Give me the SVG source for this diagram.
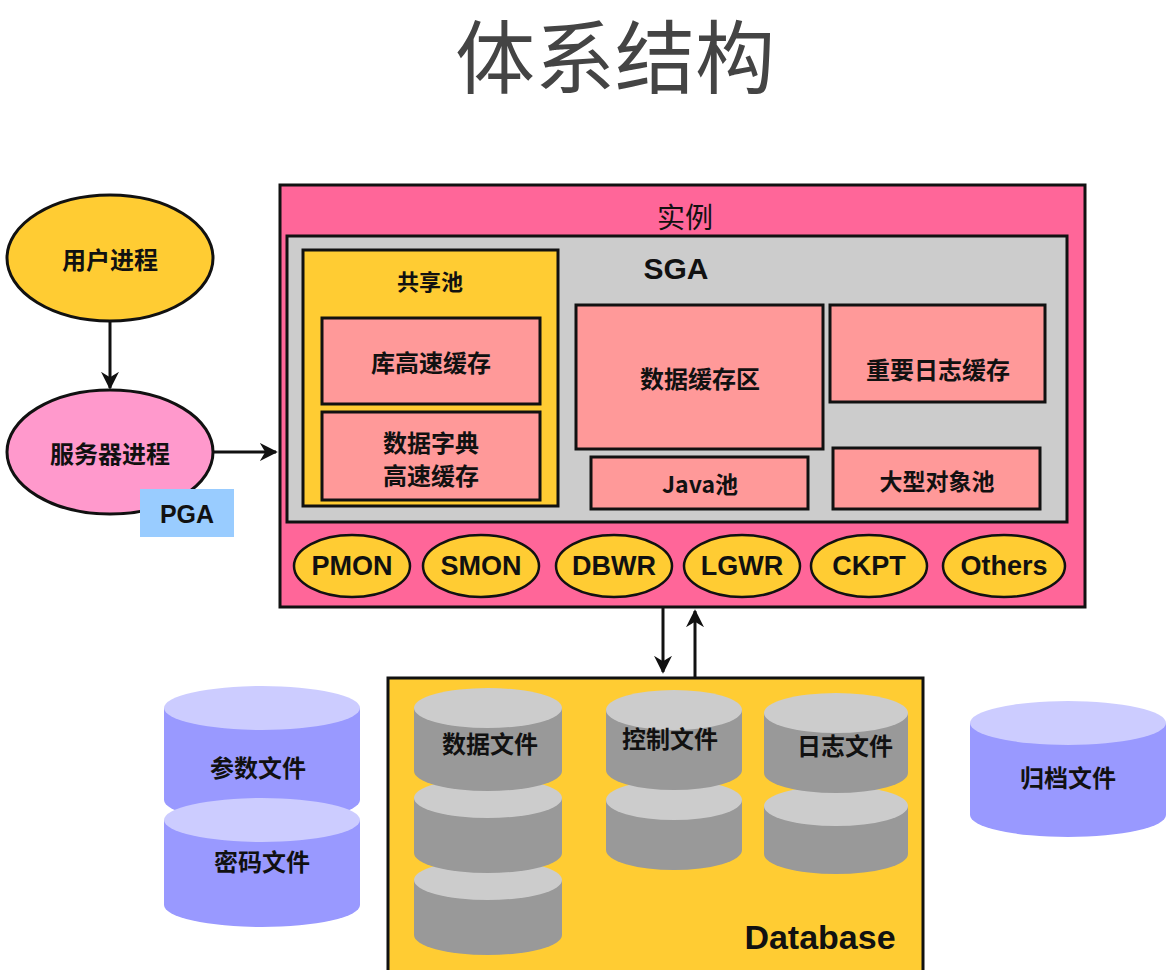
<svg xmlns="http://www.w3.org/2000/svg" width="1170" height="970" viewBox="0 0 1170 970">
<defs>
<style>
.t{font-family:"Noto Sans CJK SC","Liberation Sans",sans-serif;font-weight:bold;fill:#111;text-anchor:middle;dominant-baseline:central}
.b{stroke:#111;stroke-width:3}
.pk{fill:#ff9999}
.pr{fill:#ffcc33;stroke:#111;stroke-width:2.5}
.pt{font-family:"Liberation Sans",sans-serif;font-weight:bold;font-size:27px;fill:#111;text-anchor:middle;dominant-baseline:central}
.ln{stroke:#111;stroke-width:3;fill:none}
</style>
<marker id="ah" viewBox="0 0 10 10" refX="9" refY="5" markerWidth="6" markerHeight="6" orient="auto"><path d="M0,0 L10,5 L0,10 L3,5 z" fill="#111"/></marker>
</defs>
<rect width="1170" height="970" fill="#fff"/>
<text x="615" y="52" font-family="Noto Sans CJK SC,sans-serif" font-size="80" fill="#444" text-anchor="middle" dominant-baseline="central">体系结构</text>

<g id="instance">
<rect x="280" y="185" width="805" height="422" fill="#ff6699" class="b"/>
<text x="685" y="216" class="t" font-size="28" style="font-weight:normal">实例</text>
</g>
<g id="sga">
<rect x="287" y="236" width="780" height="286" fill="#cccccc" class="b"/>
<text x="676" y="268" class="pt" style="font-size:30px">SGA</text>
</g>
<g id="shared-pool">
<rect x="303" y="250" width="255" height="256" fill="#ffcc33" class="b"/>
<text x="430" y="280" class="t" font-size="22">共享池</text>
</g>
<g id="lib-cache"><rect x="322" y="318" width="218" height="86" class="pk b"/><text x="431" y="361" class="t" font-size="24">库高速缓存</text></g>
<g id="dict-cache"><rect x="322" y="412" width="218" height="88" class="pk b"/><text x="431" y="441" class="t" font-size="24">数据字典</text><text x="431" y="474" class="t" font-size="24">高速缓存</text></g>
<g id="db-buffer"><rect x="576" y="305" width="247" height="144" class="pk b"/><text x="700" y="377" class="t" font-size="24">数据缓存区</text></g>
<g id="redo-buffer"><rect x="830" y="305" width="215" height="97" class="pk b"/><text x="938" y="368" class="t" font-size="24">重要日志缓存</text></g>
<g id="java-pool"><rect x="591" y="457" width="217" height="52" class="pk b"/><text x="700" y="483" class="t" font-size="23">Java池</text></g>
<g id="large-pool"><rect x="833" y="448" width="207" height="61" class="pk b"/><text x="937" y="480" class="t" font-size="23">大型对象池</text></g>

<g id="pmon"><ellipse cx="352" cy="566" rx="58" ry="31" class="pr"/><text x="352" y="566" class="pt">PMON</text></g>
<g id="smon"><ellipse cx="481" cy="566" rx="58" ry="31" class="pr"/><text x="481" y="566" class="pt">SMON</text></g>
<g id="dbwr"><ellipse cx="614" cy="566" rx="58" ry="31" class="pr"/><text x="614" y="566" class="pt">DBWR</text></g>
<g id="lgwr"><ellipse cx="742" cy="566" rx="58" ry="31" class="pr"/><text x="742" y="566" class="pt">LGWR</text></g>
<g id="ckpt"><ellipse cx="869" cy="566" rx="58" ry="31" class="pr"/><text x="869" y="566" class="pt">CKPT</text></g>
<g id="others"><ellipse cx="1004" cy="566" rx="61" ry="31" class="pr"/><text x="1004" y="566" class="pt">Others</text></g>

<g id="user-process"><ellipse cx="110" cy="258" rx="103" ry="63" fill="#ffcc33" class="b"/><text x="110" y="258" class="t" font-size="24">用户进程</text></g>
<g id="server-process"><ellipse cx="110" cy="452" rx="103" ry="62" fill="#ff99cc" class="b"/><text x="110" y="452" class="t" font-size="24">服务器进程</text></g>
<g id="pga"><rect x="140" y="489" width="94" height="48" fill="#99ccff"/><text x="187" y="514" class="pt" style="font-size:25px">PGA</text></g>

<g id="connectors">
<line x1="110" y1="322" x2="110" y2="388" class="ln" marker-end="url(#ah)"/>
<line x1="214" y1="452" x2="276" y2="452" class="ln" marker-end="url(#ah)"/>
<line x1="663" y1="607" x2="663" y2="672" class="ln" marker-end="url(#ah)"/>
<line x1="695" y1="678" x2="695" y2="611" class="ln" marker-end="url(#ah)"/>
</g>

<g id="database">
<rect x="388" y="678" width="535" height="300" fill="#ffcc33" class="b"/>
<text x="820" y="937" class="pt" style="font-size:34px">Database</text>
</g>
<g id="data-files" fill="#999">
<path d="M414,880 v55 a74,20 0 0 0 148,0 v-55 z"/><ellipse cx="488" cy="880" rx="74" ry="20" fill="#ccc"/>
<path d="M414,798 v55 a74,20 0 0 0 148,0 v-55 z"/><ellipse cx="488" cy="798" rx="74" ry="20" fill="#ccc"/>
<path d="M414,708 v63 a74,20 0 0 0 148,0 v-63 z"/><ellipse cx="488" cy="708" rx="74" ry="20" fill="#ccc"/>
<text x="490" y="742" class="t" font-size="24">数据文件</text>
</g>
<g id="control-files" fill="#999">
<path d="M606,800 v50 a68,20 0 0 0 136,0 v-50 z"/><ellipse cx="674" cy="800" rx="68" ry="20" fill="#ccc"/>
<path d="M606,710 v60 a68,20 0 0 0 136,0 v-60 z"/><ellipse cx="674" cy="710" rx="68" ry="20" fill="#ccc"/>
<text x="670" y="737" class="t" font-size="24">控制文件</text>
</g>
<g id="log-files" fill="#999">
<path d="M764,806 v48 a72,20 0 0 0 144,0 v-48 z"/><ellipse cx="836" cy="806" rx="72" ry="20" fill="#ccc"/>
<path d="M764,713 v60 a72,20 0 0 0 144,0 v-60 z"/><ellipse cx="836" cy="713" rx="72" ry="20" fill="#ccc"/>
<text x="845" y="744" class="t" font-size="24">日志文件</text>
</g>
<g id="param-file" fill="#9999ff">
<path d="M164,708 v92 a98,22 0 0 0 196,0 v-92 z"/><ellipse cx="262" cy="708" rx="98" ry="22" fill="#ccccff"/>
<text x="258" y="766" class="t" font-size="24">参数文件</text>
</g>
<g id="pwd-file" fill="#9999ff">
<path d="M164,820 v85 a98,22 0 0 0 196,0 v-85 z"/><ellipse cx="262" cy="820" rx="98" ry="22" fill="#ccccff"/>
<text x="262" y="860" class="t" font-size="24">密码文件</text>
</g>
<g id="archive-file" fill="#9999ff">
<path d="M970,723 v92 a98,22 0 0 0 196,0 v-92 z"/><ellipse cx="1068" cy="723" rx="98" ry="22" fill="#ccccff"/>
<text x="1068" y="776" class="t" font-size="24">归档文件</text>
</g>
</svg>
